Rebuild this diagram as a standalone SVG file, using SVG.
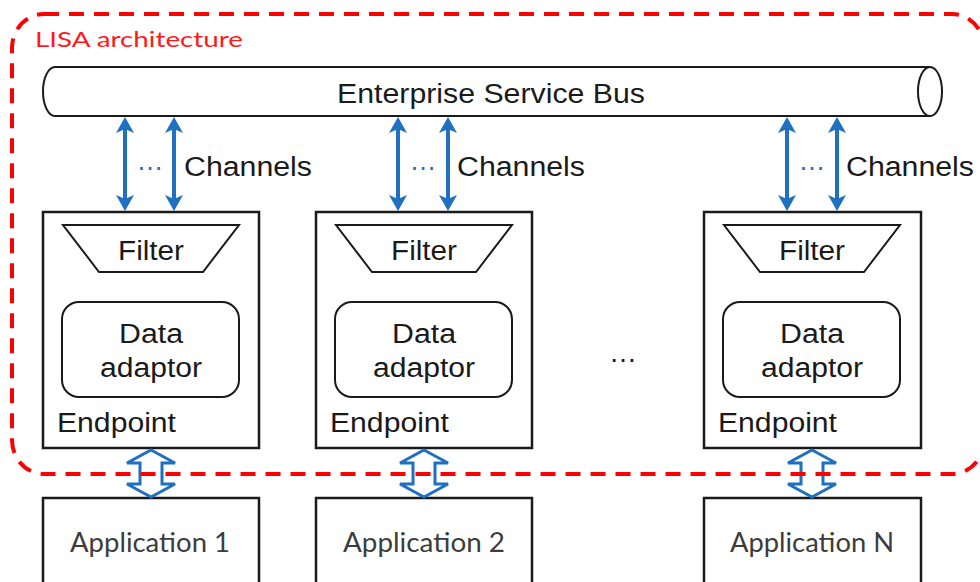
<svg xmlns="http://www.w3.org/2000/svg" width="980" height="582" viewBox="0 0 980 582">
<style>
.box{fill:#fff;stroke:#1a1a1a;stroke-width:2.5}
.shape{fill:#fff;stroke:#1a1a1a;stroke-width:2}
.t{font-family:"Liberation Sans",Arial,sans-serif;font-size:27px;fill:#1a1a1a}
.app{font-family:Lato,"Liberation Sans",sans-serif;font-size:26px;fill:#3c3c3c}
.ch{stroke:#1F70C1;stroke-width:4;fill:none}
.hollow{fill:none;stroke:#1F70C1;stroke-width:3;stroke-linejoin:miter}
.dots{font-family:"Liberation Sans",Arial,sans-serif;font-size:27px;fill:#1F70C1}
</style>
<defs>
<marker id="ah" viewBox="0 0 16 18" refX="6" refY="9" markerWidth="16" markerHeight="18" markerUnits="userSpaceOnUse" orient="auto-start-reverse">
<path d="M0,0 L16,9 L0,18 L4,9 Z" fill="#1F70C1"/>
</marker>
</defs>
<rect width="980" height="582" fill="#fff"/>

<g id="bus">
<path class="shape" d="M930,67 L55,67 A12,24.5 0 0 0 55,116 L930,116"/>
<ellipse class="shape" cx="930" cy="91.5" rx="12" ry="24.5"/>
<text class="t" x="491" y="103" text-anchor="middle" textLength="308" lengthAdjust="spacingAndGlyphs">Enterprise Service Bus</text>
</g>

<g id="endpoint1">
<rect class="box" x="43" y="212" width="216" height="236"/>
<polygon class="shape" points="63,225 239,225 203,272 99,272"/>
<text class="t" x="151" y="260" text-anchor="middle" textLength="66" lengthAdjust="spacingAndGlyphs">Filter</text>
<rect class="shape" x="62" y="302" width="177" height="95" rx="17"/>
<text class="t" x="151" y="343" text-anchor="middle" textLength="64" lengthAdjust="spacingAndGlyphs">Data</text>
<text class="t" x="151" y="377" text-anchor="middle" textLength="102" lengthAdjust="spacingAndGlyphs">adaptor</text>
<text class="t" x="57" y="432" textLength="119" lengthAdjust="spacingAndGlyphs">Endpoint</text>
</g>

<g id="endpoint2">
<rect class="box" x="316" y="212" width="216" height="236"/>
<polygon class="shape" points="336,225 512,225 476,272 372,272"/>
<text class="t" x="424" y="260" text-anchor="middle" textLength="66" lengthAdjust="spacingAndGlyphs">Filter</text>
<rect class="shape" x="335" y="302" width="177" height="95" rx="17"/>
<text class="t" x="424" y="343" text-anchor="middle" textLength="64" lengthAdjust="spacingAndGlyphs">Data</text>
<text class="t" x="424" y="377" text-anchor="middle" textLength="102" lengthAdjust="spacingAndGlyphs">adaptor</text>
<text class="t" x="330" y="432" textLength="119" lengthAdjust="spacingAndGlyphs">Endpoint</text>
</g>

<g id="endpointN">
<rect class="box" x="704" y="212" width="217" height="236"/>
<polygon class="shape" points="724,225 900,225 864,272 760,272"/>
<text class="t" x="812" y="260" text-anchor="middle" textLength="66" lengthAdjust="spacingAndGlyphs">Filter</text>
<rect class="shape" x="723" y="302" width="177" height="95" rx="17"/>
<text class="t" x="812" y="343" text-anchor="middle" textLength="64" lengthAdjust="spacingAndGlyphs">Data</text>
<text class="t" x="812" y="377" text-anchor="middle" textLength="102" lengthAdjust="spacingAndGlyphs">adaptor</text>
<text class="t" x="718" y="432" textLength="119" lengthAdjust="spacingAndGlyphs">Endpoint</text>
</g>

<g id="ellipsis-mid">
<text class="t" x="623" y="362" text-anchor="middle" style="font-size:28px">…</text>
</g>

<g id="app1">
<rect class="box" x="43" y="498" width="216" height="110"/>
<text class="app" x="150" y="552" text-anchor="middle" textLength="160" lengthAdjust="spacingAndGlyphs">Application 1</text>
</g>
<g id="app2">
<rect class="box" x="316" y="498" width="216" height="110"/>
<text class="app" x="424" y="552" text-anchor="middle" textLength="162" lengthAdjust="spacingAndGlyphs">Application 2</text>
</g>
<g id="appN">
<rect class="box" x="704" y="498" width="217" height="110"/>
<text class="app" x="812" y="552" text-anchor="middle" textLength="164" lengthAdjust="spacingAndGlyphs">Application N</text>
</g>

<g id="connectors">
<line class="ch" x1="125" y1="127" x2="125" y2="201" marker-start="url(#ah)" marker-end="url(#ah)"/>
<line class="ch" x1="174" y1="127" x2="174" y2="201" marker-start="url(#ah)" marker-end="url(#ah)"/>
<line class="ch" x1="398" y1="127" x2="398" y2="201" marker-start="url(#ah)" marker-end="url(#ah)"/>
<line class="ch" x1="448" y1="127" x2="448" y2="201" marker-start="url(#ah)" marker-end="url(#ah)"/>
<line class="ch" x1="787" y1="127" x2="787" y2="201" marker-start="url(#ah)" marker-end="url(#ah)"/>
<line class="ch" x1="837" y1="127" x2="837" y2="201" marker-start="url(#ah)" marker-end="url(#ah)"/>
<text class="dots" x="150" y="170" text-anchor="middle">…</text>
<text class="dots" x="423" y="170" text-anchor="middle">…</text>
<text class="dots" x="812" y="170" text-anchor="middle">…</text>
<text class="t" x="184" y="176" textLength="128" lengthAdjust="spacingAndGlyphs">Channels</text>
<text class="t" x="457" y="176" textLength="128" lengthAdjust="spacingAndGlyphs">Channels</text>
<text class="t" x="846" y="176" textLength="128" lengthAdjust="spacingAndGlyphs">Channels</text>
<path class="hollow" d="M151,450 L175,463 L162,463 L162,484 L175,484 L151,497 L127,484 L140,484 L140,463 L127,463 Z"/>
<path class="hollow" d="M424,450 L448,463 L435,463 L435,484 L448,484 L424,497 L400,484 L413,484 L413,463 L400,463 Z"/>
<path class="hollow" d="M812,450 L836,463 L823,463 L823,484 L836,484 L812,497 L788,484 L801,484 L801,463 L788,463 Z"/>
</g>

<g id="lisa">
<rect x="12" y="14" width="972" height="460" rx="32" ry="34" fill="none" stroke="#FF0000" stroke-width="4" stroke-dasharray="15 10"/>
<text x="35" y="47" font-family="Lato,'Liberation Sans',sans-serif" font-size="22" fill="#FF1A1A" textLength="208" lengthAdjust="spacingAndGlyphs">LISA architecture</text>
</g>
</svg>
